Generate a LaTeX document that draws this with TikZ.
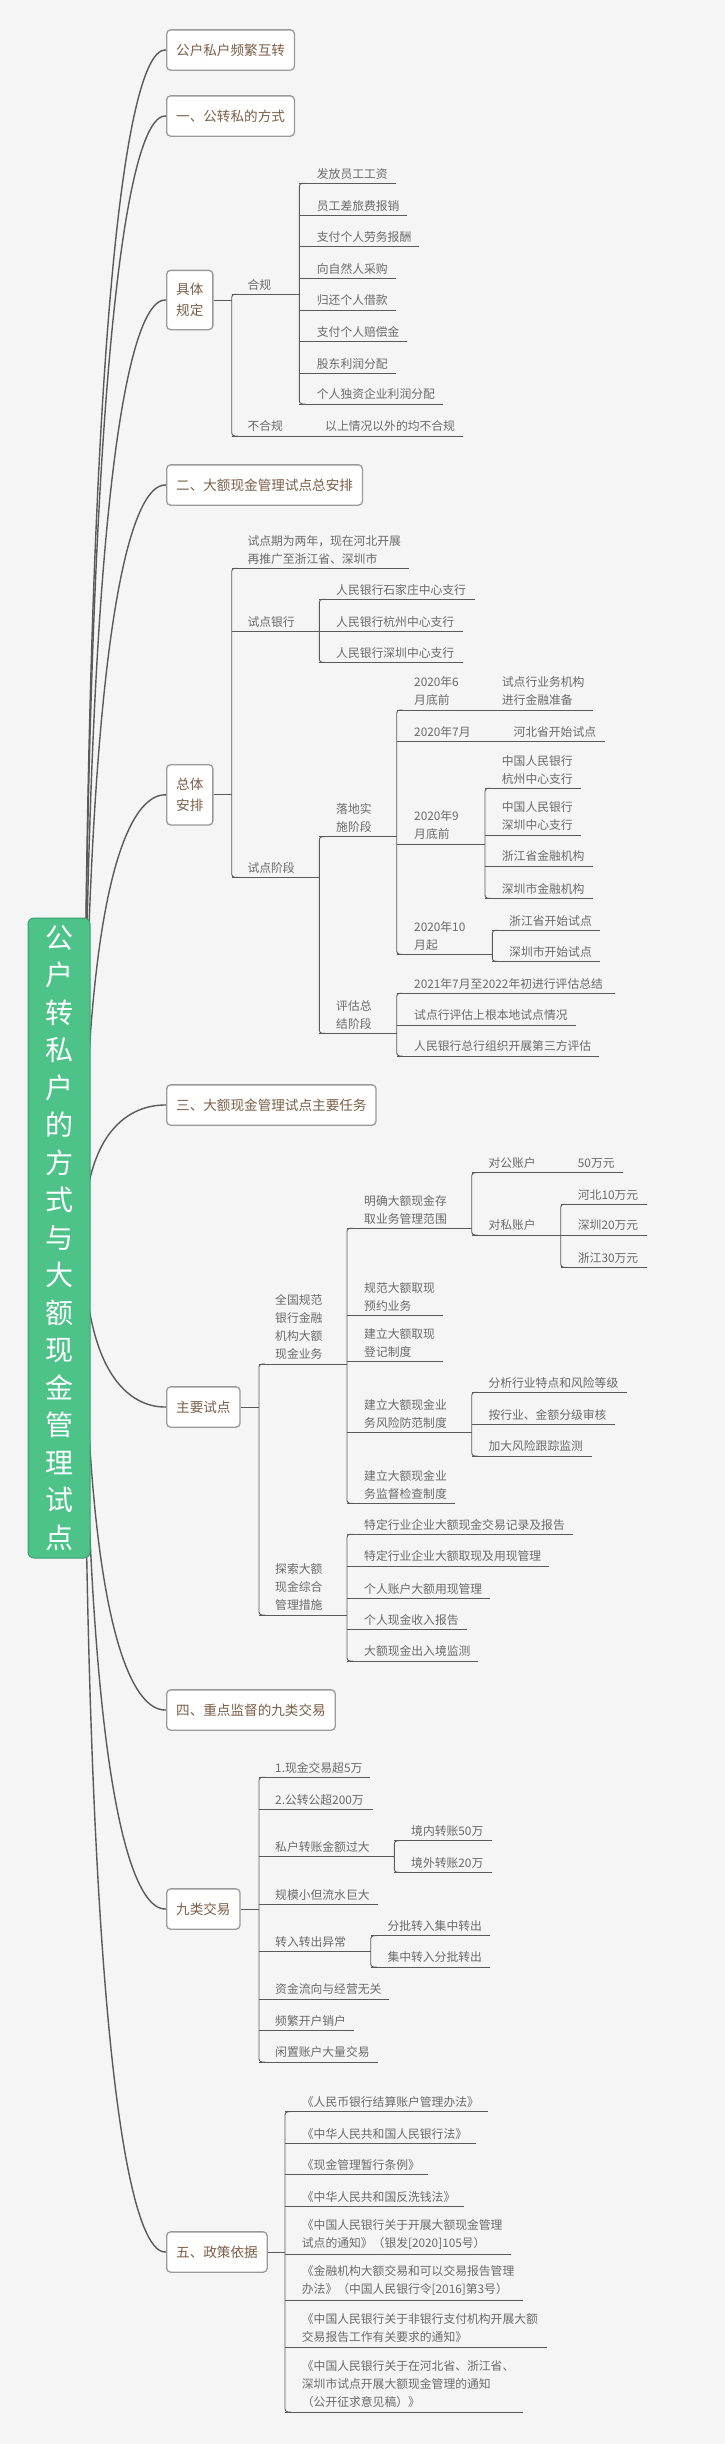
\documentclass[tikz,border=0pt]{standalone}
\usepackage{fontspec}
\newfontfamily\cjk{Noto Sans CJK SC}
\definecolor{bg}{HTML}{F5F5F5}
\definecolor{lnc}{HTML}{5A5A5A}
\definecolor{txc}{HTML}{6A6A6A}
\definecolor{brn}{HTML}{7A5F48}
\definecolor{bdr}{HTML}{9A9A9A}
\definecolor{rootg}{HTML}{4DC38A}
\definecolor{rootb}{HTML}{3E9E70}
\tikzset{
 ln/.style={draw=lnc, line width=0.9pt},
 spn/.style={ln, rounded corners=3pt},
 lf/.style={font=\cjk\fontsize{11.8}{18}\selectfont, text=txc, inner sep=0pt, anchor=south west, yshift=4pt, align=left},
 tb/.style={draw=bdr, fill=white, line width=1.3pt, rounded corners=4pt, font=\cjk\fontsize{13.6}{20.7}\selectfont, text=brn, inner xsep=9.5pt, inner ysep=0pt, minimum height=40.3pt, anchor=west, align=center},
 cv/.style={draw=lnc, line width=1.4pt},
 rootbox/.style={fill=rootg, draw=rootb, line width=1pt, rounded corners=6pt, text=white, font=\cjk\fontsize{28}{37.5}\selectfont, align=center, minimum width=62pt, minimum height=640pt, inner sep=0pt},
}
\newcommand\lf[6]{\node[lf] (#1) at (#5,#3) {#6};\draw[ln] (#2,#3) -- (#4,#3);}
\newcommand\spine[3]{\draw[spn] (#1+6,#2) -- (#1,#2) -- (#1,#3) -- (#1+6,#3);}
\begin{document}
\begin{tikzpicture}[x=1pt,y=-1pt]
\fill[bg] (0,0) rectangle (725,2444);
\useasboundingbox (0,0) rectangle (725,2444);
% top-level boxes
\node[tb] (t0) at (166,50) {公户私户频繁互转};
\node[tb] (t1) at (166,116) {一、公转私的方式};
\node[tb, minimum height=59.3pt] (t1a) at (166,300) {具体\\规定};
\node[tb] (t2) at (166,485) {二、大额现金管理试点总安排};
\node[tb, minimum height=60.3pt] (t2a) at (166,794.8) {总体\\安排};
\node[tb] (t3) at (166,1105) {三、大额现金管理试点主要任务};
\node[tb] (t3a) at (166,1407) {主要试点};
\node[tb] (t4) at (166,1710) {四、重点监督的九类交易};
\node[tb] (t4a) at (166,1909) {九类交易};
\node[tb] (t5) at (166,2252) {五、政策依据};
% curves from root
\coordinate (rc) at (59,1238);
\coordinate (rs) at (84,1238);
\foreach \t in {t0,t1,t1a,t2,t2a,t3,t3a,t4,t4a,t5}{
 \draw[cv] (rs) .. controls (rs |- \t.west) and ([xshift=-12pt]\t.west) .. (\t.west);
}
\node[rootbox] (root) at (rc) {公\\户\\转\\私\\户\\的\\方\\式\\与\\大\\额\\现\\金\\管\\理\\试\\点};
% section 1
\draw[ln] (t1a.east) -- (231.7,300);
\spine{231.7}{294.3}{436}
\lf{hg}{231.7}{294.3}{299.3}{247.3}{合规}
\lf{bhg}{231.7}{436}{463}{247.3}{不合规}
\node[lf] (bhg1) at (325,436) {以上情况以外的均不合规};
\spine{299.3}{183.3}{404}
\lf{a1}{299.3}{183.3}{396}{316.7}{发放员工工资}
\lf{a2}{299.3}{215.3}{407.3}{316.7}{员工差旅费报销}
\lf{a3}{299.3}{246.7}{419.3}{316.7}{支付个人劳务报酬}
\lf{a4}{299.3}{278.3}{396}{316.7}{向自然人采购}
\lf{a5}{299.3}{310}{396}{316.7}{归还个人借款}
\lf{a6}{299.3}{341.3}{407.3}{316.7}{支付个人赔偿金}
\lf{a7}{299.3}{373.3}{396}{316.7}{股东利润分配}
\lf{a8}{299.3}{404}{442.7}{316.7}{个人独资企业利润分配}
% section 2
\draw[ln] (t2a.east) -- (231.7,794.8);
\spine{231.7}{568.3}{877.3}
\lf{b1}{231.7}{568.3}{409.3}{247.3}{试点期为两年，现在河北开展\\再推广至浙江省、深圳市}
\lf{b2}{231.7}{631.7}{319.3}{247.3}{试点银行}
\lf{b3}{231.7}{877.3}{319.3}{247.3}{试点阶段}
\spine{319.3}{599.3}{662.3}
\lf{b21}{319.3}{599.3}{475}{336}{人民银行石家庄中心支行}
\lf{b22}{319.3}{631.7}{463.3}{336}{人民银行杭州中心支行}
\lf{b23}{319.3}{662.3}{463.3}{336}{人民银行深圳中心支行}
\spine{319.3}{836.7}{1033.3}
\lf{b31}{319.3}{836.7}{396.7}{336}{落地实\\施阶段}
\lf{b32}{319.3}{1033.3}{396.7}{336}{评估总\\结阶段}
\spine{396.7}{710}{954.3}
\lf{c1}{396.7}{710}{593.3}{414}{2020年6\\月底前}
\node[lf] (c1a) at (501.7,710) {试点行业务机构\\进行金融准备};
\lf{c2}{396.7}{741.7}{605}{414}{2020年7月}
\node[lf] (c2a) at (513.3,741.7) {河北省开始试点};
\lf{c3}{396.7}{844}{485}{414}{2020年9\\月底前}
\lf{c4}{396.7}{954.3}{492.3}{414}{2020年10\\月起}
\spine{485}{788.3}{898.3}
\lf{c31}{485}{788.3}{581}{501.7}{中国人民银行\\杭州中心支行}
\lf{c32}{485}{835}{581}{501.7}{中国人民银行\\深圳中心支行}
\lf{c33}{485}{866}{592.7}{501.7}{浙江省金融机构}
\lf{c34}{485}{898.3}{592.7}{501.7}{深圳市金融机构}
\spine{492.3}{930.3}{961.3}
\lf{c41}{492.3}{930.3}{600}{509}{浙江省开始试点}
\lf{c42}{492.3}{961.3}{600}{509}{深圳市开始试点}
\spine{396.7}{993.3}{1056}
\lf{d1}{396.7}{993.3}{615}{414}{2021年7月至2022年初进行评估总结}
\lf{d2}{396.7}{1025}{576}{414}{试点行评估上根本地试点情况}
\lf{d3}{396.7}{1056}{599.3}{414}{人民银行总行组织开展第三方评估}
% section 3
\draw[ln] (t3a.east) -- (259,1407);
\spine{259}{1364}{1615}
\lf{e1}{259}{1364}{347}{275}{全国规范\\银行金融\\机构大额\\现金业务}
\lf{e2}{259}{1615}{347}{275}{探索大额\\现金综合\\管理措施}
\spine{347}{1228.3}{1503.3}
\lf{f1}{347}{1228.3}{471.7}{364}{明确大额现金存\\取业务管理范围}
\lf{f2}{347}{1315.7}{442.7}{364}{规范大额取现\\预约业务}
\lf{f3}{347}{1361.3}{442.7}{364}{建立大额取现\\登记制度}
\lf{f4}{347}{1432.3}{471.7}{364}{建立大额现金业\\务风险防范制度}
\lf{f5}{347}{1503.3}{455}{364}{建立大额现金业\\务监督检查制度}
\spine{471.7}{1172.7}{1235}
\lf{g1}{471.7}{1172.7}{623.3}{488.3}{对公账户}
\node[lf] (g1a) at (577.7,1172.7) {50万元};
\lf{g2}{471.7}{1235}{560.7}{488.3}{对私账户}
\spine{560.7}{1204.3}{1267.3}
\lf{g21}{560.7}{1204.3}{646.7}{577.7}{河北10万元}
\lf{g22}{560.7}{1235}{646.7}{577.7}{深圳20万元}
\lf{g23}{560.7}{1267.3}{646.7}{577.7}{浙江30万元}
\spine{471.7}{1392.3}{1456}
\lf{h1}{471.7}{1392.3}{626.7}{488.3}{分析行业特点和风险等级}
\lf{h2}{471.7}{1424.3}{615}{488.3}{按行业、金额分级审核}
\lf{h3}{471.7}{1456}{591.7}{488.3}{加大风险跟踪监测}
\spine{347}{1534.3}{1661}
\lf{i1}{347}{1534.3}{573.3}{364}{特定行业企业大额现金交易记录及报告}
\lf{i2}{347}{1566}{549.3}{364}{特定行业企业大额取现及用现管理}
\lf{i3}{347}{1598.3}{490}{364}{个人账户大额用现管理}
\lf{i4}{347}{1629.3}{466.7}{364}{个人现金收入报告}
\lf{i5}{347}{1661}{478.3}{364}{大额现金出入境监测}
% section 4
\draw[ln] (t4a.east) -- (259,1909);
\spine{259}{1777.3}{2062}
\lf{j1}{259}{1777.3}{370}{275}{1.现金交易超5万}
\lf{j2}{259}{1809.3}{372.7}{275}{2.公转公超200万}
\lf{j3}{259}{1856.7}{394.3}{275}{私户转账金额过大}
\lf{j4}{259}{1904.3}{377.7}{275}{规模小但流水巨大}
\lf{j5}{259}{1951.7}{370.7}{275}{转入转出异常}
\lf{j6}{259}{1999}{389.3}{275}{资金流向与经营无关}
\lf{j7}{259}{2030.3}{354}{275}{频繁开户销户}
\lf{j8}{259}{2062}{377.7}{275}{闲置账户大量交易}
\spine{394.3}{1840.7}{1872.3}
\lf{j31}{394.3}{1840.7}{492.3}{411}{境内转账50万}
\lf{j32}{394.3}{1872.3}{492.3}{411}{境外转账20万}
\spine{370.7}{1935.7}{1967}
\lf{j51}{370.7}{1935.7}{490}{387.3}{分批转入集中转出}
\lf{j52}{370.7}{1967}{490}{387.3}{集中转入分批转出}
% section 5
\draw[ln] (t5.east) -- (285,2252);
\spine{285}{2111.7}{2412}
\lf{k1}{285}{2111.7}{487.7}{301.7}{《人民币银行结算账户管理办法》}
\lf{k2}{285}{2143.3}{475.7}{301.7}{《中华人民共和国人民银行法》}
\lf{k3}{285}{2174.3}{428.3}{301.7}{《现金管理暂行条例》}
\lf{k4}{285}{2206.7}{464}{301.7}{《中华人民共和国反洗钱法》}
\lf{k5}{285}{2254}{511}{301.7}{《中国人民银行关于开展大额现金管理\\试点的通知》（银发[2020]105号）}
\lf{k6}{285}{2300}{522.7}{301.7}{《金融机构大额交易和可以交易报告管理\\办法》（中国人民银行令[2016]第3号）}
\lf{k7}{285}{2347}{546.7}{301.7}{《中国人民银行关于非银行支付机构开展大额\\交易报告工作有关要求的通知》}
\lf{k8}{285}{2412}{522.7}{301.7}{《中国人民银行关于在河北省、浙江省、\\深圳市试点开展大额现金管理的通知\\（公开征求意见稿）》}
\end{tikzpicture}
\end{document}
